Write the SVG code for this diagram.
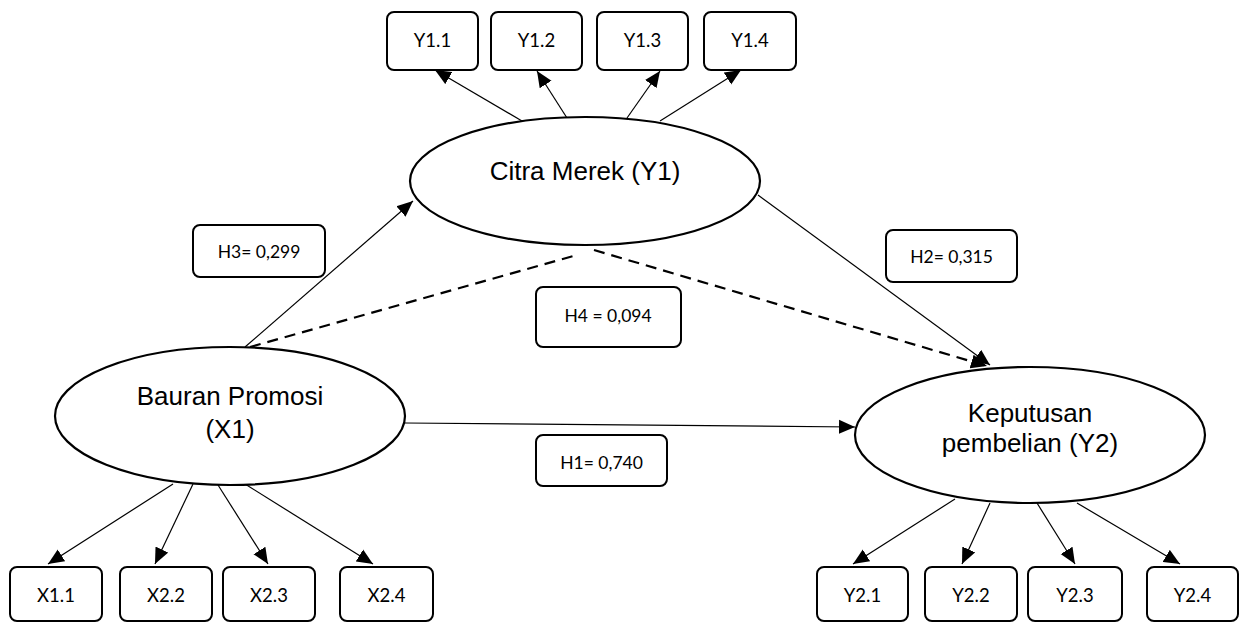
<svg xmlns="http://www.w3.org/2000/svg" width="1245" height="622" viewBox="0 0 1245 622">
<style>
.box{fill:#fff;stroke:#000;stroke-width:2}
.ell{fill:#fff;stroke:#000;stroke-width:2.2}
.lbl{font-family:Lato,"Liberation Sans",sans-serif;font-size:17.5px;fill:#000;text-anchor:middle}
.sm{font-size:18.5px}
.big{font-family:"Liberation Sans",Arial,sans-serif;font-size:26px;fill:#000;text-anchor:middle}
.con{fill:none;stroke:#000;stroke-width:1.2;marker-end:url(#ah)}
.dash{fill:none;stroke:#000;stroke-width:2.2;stroke-dasharray:11 7}
</style>
<defs>
<marker id="ah" markerUnits="userSpaceOnUse" markerWidth="17" markerHeight="15" refX="16" refY="7" orient="auto" viewBox="0 0 17 14">
<path d="M0,0 L16,7 L0,14 z" fill="#000"/>
</marker>
</defs>
<rect width="1245" height="622" fill="#fff"/>
<g id="connectors">
<line class="con" x1="522" y1="121" x2="435" y2="70"/>
<line class="con" x1="567" y1="118" x2="537" y2="71"/>
<line class="con" x1="627" y1="118" x2="660" y2="71"/>
<line class="con" x1="660" y1="121" x2="741" y2="70"/>
<line class="con" x1="245" y1="347" x2="413" y2="201"/>
<line class="con" x1="758" y1="195" x2="990" y2="365"/>
<line class="con" x1="405" y1="423" x2="855" y2="427"/>
<path class="dash" d="M250,347 L577,255"/>
<path class="dash" d="M594,250 L987,366" marker-end="url(#ah)"/>
<line class="con" x1="173" y1="484" x2="48" y2="564"/>
<line class="con" x1="193" y1="484" x2="155" y2="564"/>
<line class="con" x1="218" y1="485" x2="268" y2="564"/>
<line class="con" x1="245" y1="484" x2="373" y2="564"/>
<line class="con" x1="955" y1="499" x2="853" y2="564"/>
<line class="con" x1="990" y1="503" x2="962" y2="564"/>
<line class="con" x1="1037" y1="503" x2="1075" y2="564"/>
<line class="con" x1="1077" y1="503" x2="1180" y2="564"/>
</g>
<g id="Y1">
<ellipse class="ell" cx="585" cy="181" rx="175" ry="64"/>
<text class="big" x="585" y="180">Citra Merek (Y1)</text>
</g>
<g id="X1">
<ellipse class="ell" cx="230" cy="416" rx="175" ry="69"/>
<text class="big" x="230" y="405">Bauran Promosi</text>
<text class="big" x="230" y="438">(X1)</text>
</g>
<g id="Y2">
<ellipse class="ell" cx="1030" cy="435" rx="175" ry="68"/>
<text class="big" x="1030" y="422">Keputusan</text>
<text class="big" x="1030" y="452">pembelian (Y2)</text>
</g>
<g id="Y1_1"><rect class="box" x="387" y="12" width="91" height="58" rx="7"/><text class="lbl sm" x="432.5" y="47">Y1.1</text></g>
<g id="Y1_2"><rect class="box" x="491" y="12" width="91" height="58" rx="7"/><text class="lbl sm" x="536.5" y="47">Y1.2</text></g>
<g id="Y1_3"><rect class="box" x="597" y="12" width="91" height="58" rx="7"/><text class="lbl sm" x="642.5" y="47">Y1.3</text></g>
<g id="Y1_4"><rect class="box" x="704" y="12" width="92" height="58" rx="7"/><text class="lbl sm" x="750" y="47">Y1.4</text></g>
<g id="X1_1"><rect class="box" x="10" y="567" width="92" height="54" rx="7"/><text class="lbl sm" x="56" y="602">X1.1</text></g>
<g id="X2_2"><rect class="box" x="120" y="567" width="92" height="54" rx="7"/><text class="lbl sm" x="166" y="602">X2.2</text></g>
<g id="X2_3"><rect class="box" x="223" y="567" width="92" height="54" rx="7"/><text class="lbl sm" x="269" y="602">X2.3</text></g>
<g id="X2_4"><rect class="box" x="340" y="567" width="93" height="54" rx="7"/><text class="lbl sm" x="386.5" y="602">X2.4</text></g>
<g id="Y2_1"><rect class="box" x="817" y="567" width="91" height="54" rx="7"/><text class="lbl sm" x="862.5" y="602">Y2.1</text></g>
<g id="Y2_2"><rect class="box" x="925" y="567" width="92" height="54" rx="7"/><text class="lbl sm" x="971" y="602">Y2.2</text></g>
<g id="Y2_3"><rect class="box" x="1028" y="567" width="94" height="54" rx="7"/><text class="lbl sm" x="1075" y="602">Y2.3</text></g>
<g id="Y2_4"><rect class="box" x="1147" y="567" width="91" height="54" rx="7"/><text class="lbl sm" x="1192.5" y="602">Y2.4</text></g>
<g id="H3"><rect class="box" x="193" y="225" width="132" height="52" rx="7"/><text class="lbl" x="259" y="258">H3= 0,299</text></g>
<g id="H4"><rect class="box" x="536" y="287" width="145" height="60" rx="7"/><text class="lbl" x="608" y="322">H4 = 0,094</text></g>
<g id="H2"><rect class="box" x="886" y="230" width="131" height="52" rx="7"/><text class="lbl" x="951.5" y="263">H2= 0,315</text></g>
<g id="H1"><rect class="box" x="536" y="435" width="131" height="51" rx="7"/><text class="lbl" x="601.5" y="469">H1= 0,740</text></g>
</svg>
